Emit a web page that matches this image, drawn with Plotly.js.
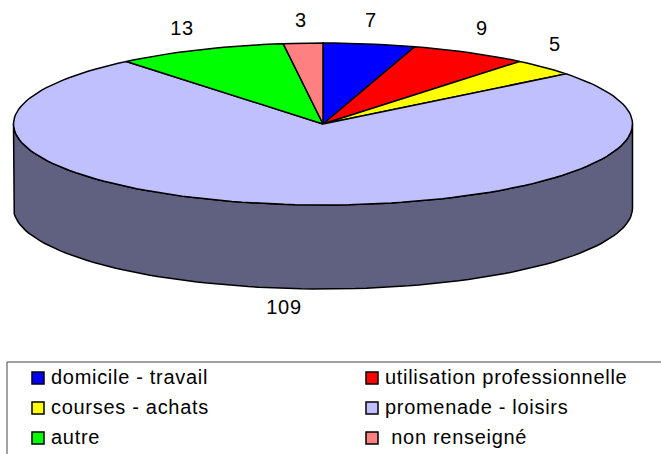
<!DOCTYPE html>
<html><head><meta charset="utf-8">
<script src="https://cdn.plot.ly/plotly-3.0.1.min.js"></script>
<style>html,body{margin:0;padding:0;background:#fff}#c{width:661px;height:454px}
.textpoint text{letter-spacing:.7px}</style>
</head><body><div id="c"></div>
<script>
const categories = ["domicile - travail","utilisation professionnelle","courses - achats","promenade - loisirs","autre","non renseigné"];
const values = [7,9,5,109,13,3];
const colors = ["#0000FF","#FF0000","#FFFF00","#C0C0FF","#00FF00","#FF8080"];
const legendLabels = ["domicile - travail","utilisation professionnelle","courses - achats","promenade - loisirs","autre"," non renseigné"];

// geometry of the tilted disc, in axis units (axes map 1:1 to pixels)
const cx = 323, cy = 124, rx = 309.5, ry = 81, depth = 84;
const total = values.reduce((a,b)=>a+b,0);
const pt = a => [cx + rx*Math.sin(a), cy - ry*Math.cos(a)];
const STEP = Math.PI/90;

const traces = [];
// side wall: front half of the rim
{
  const xs=[], ys=[], xb=[], yb=[];
  for (let a=Math.PI/2; a<=3*Math.PI/2+1e-9; a+=STEP){
    const p=pt(a); xs.push(p[0]); ys.push(p[1]); xb.push(p[0]); yb.push(p[1]+depth);
  }
  traces.push({type:"scatter",mode:"lines",fill:"toself",fillcolor:"#606080",
    x:xs.concat(xb.reverse()).concat([xs[0]]),y:ys.concat(yb.reverse()).concat([ys[0]]),
    line:{color:"#000",width:1.5},hoverinfo:"skip",showlegend:false});
}
// slices on top
let cum=0;
values.forEach((v,i)=>{
  const a0=cum/total*2*Math.PI, a1=(cum+v)/total*2*Math.PI; cum+=v;
  const xs=[cx], ys=[cy];
  const n=Math.max(2,Math.ceil((a1-a0)/STEP));
  for(let k=0;k<=n;k++){const p=pt(a0+(a1-a0)*k/n); xs.push(p[0]); ys.push(p[1]);}
  xs.push(cx); ys.push(cy);
  traces.push({type:"scatter",mode:"lines",fill:"toself",fillcolor:colors[i],x:xs,y:ys,
    line:{color:"#000",width:1.5},name:categories[i],text:String(v),hoverinfo:"name+text",showlegend:false});
});
const font={family:"Liberation Sans, Arial, sans-serif",size:20,color:"#000"};
// value labels
const labelX=[371,482,555,284,182,301], labelY=[22,30,46,309,30,22];
traces.push({type:"scatter",mode:"text",x:labelX,y:labelY,text:values.map(String),
  textposition:"middle center",textfont:font,hoverinfo:"skip",showlegend:false});
// legend key
const keyX=[38,372,38,372,38,372], keyY=[378,378,408,408,438,438];
const keyTextX=[51,385,51,385,51,385], keyTextY=[379,379,409,409,439,439];
traces.push({type:"scatter",mode:"markers",x:keyX,y:keyY,
  marker:{symbol:"square",size:12,color:colors,line:{color:"#000",width:1.5}},
  hoverinfo:"skip",showlegend:false});
traces.push({type:"scatter",mode:"text",x:keyTextX,y:keyTextY,text:legendLabels,textposition:"middle right",
  textfont:font,cliponaxis:false,hoverinfo:"skip",showlegend:false});

const layout={width:661,height:454,margin:{l:0,r:0,t:0,b:0},paper_bgcolor:"#fff",plot_bgcolor:"#fff",showlegend:false,
  xaxis:{range:[0,661],visible:false,fixedrange:true},
  yaxis:{range:[454,0],visible:false,fixedrange:true},
  shapes:[{type:"path",path:"M7,454 L7,362 L661,362",line:{color:"#444",width:1}}]};
Plotly.newPlot("c",traces,layout,{displayModeBar:false,staticPlot:true});
</script></body></html>
